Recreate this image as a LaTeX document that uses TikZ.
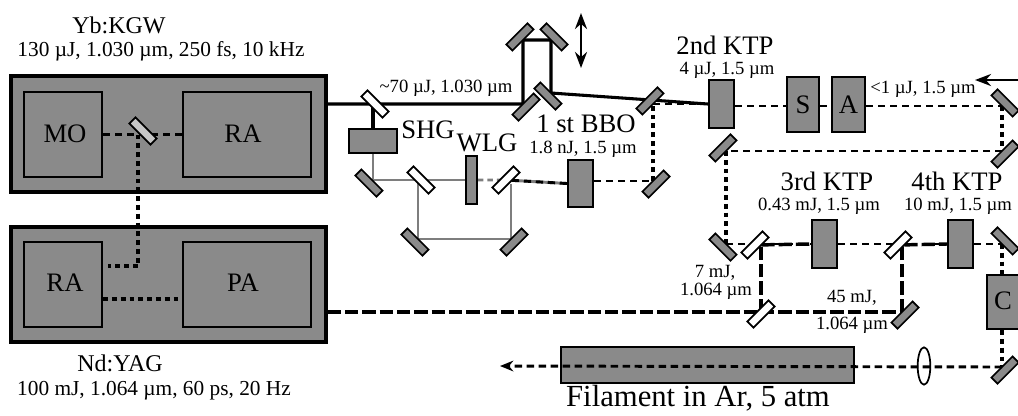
\documentclass[tikz,border=0pt]{standalone}
\usepackage{fontspec}
\setmainfont{Liberation Serif}
\usetikzlibrary{fit,backgrounds,arrows.meta,shapes.geometric}
\definecolor{fillg}{HTML}{8A8A8A}
\definecolor{beamg}{HTML}{7E7E7E}
\tikzset{
  outerbox/.style={draw=black,fill=fillg,line width=2.6pt,inner sep=0pt},
  gbox/.style={draw=black,fill=fillg,line width=1.7pt,inner sep=0pt},
  mirror/.style={draw=black,fill=fillg,line width=1.3pt,minimum width=22.5pt,minimum height=6.5pt,inner sep=0pt,outer sep=0pt},
  splitter/.style={mirror,fill=white},
  boxlabel/.style={inner sep=0pt,font=\fontsize{20}{20}\selectfont},
  big/.style={inner sep=0pt,font=\fontsize{20}{20}\selectfont},
  title/.style={inner sep=0pt,font=\fontsize{18}{18}\selectfont},
  mainline/.style={inner sep=0pt,font=\fontsize{16}{16}\selectfont},
  filtext/.style={inner sep=0pt,font=\fontsize{23}{23}\selectfont},
  small/.style={inner sep=0pt,font=\fontsize{14}{14}\selectfont},
  solidbeam/.style={draw=black,line width=2.3pt},
  dashbeam/.style={draw=black,line width=2.2pt,dash pattern=on 5.5pt off 3.5pt},
  dotbeam/.style={draw=black,line width=2.8pt,dash pattern=on 3.6pt off 3pt},
  longbeam/.style={draw=black,line width=2.6pt,dash pattern=on 10pt off 3pt},
  graybeam/.style={draw=beamg,line width=2.2pt},
  graydash/.style={draw=beamg,line width=2.2pt,dash pattern=on 4pt off 3pt},
  motion/.style={draw=black,line width=2pt,{Stealth[length=12pt,width=9pt]}-{Stealth[length=12pt,width=9pt]}},
}
\begin{document}
\begin{tikzpicture}[x=0.75pt,y=-0.75pt]
\useasboundingbox (0,0) rectangle (1018,415);
% lasers
\begin{scope}[on background layer]
\node[outerbox,fit={(11,76)(326,192)}] (yb) {};
\node[outerbox,fit={(11,227)(326,342)}] (nd) {};
\end{scope}
\node[gbox,fit={(24,92)(102,177)}] (mo) {};
\node[gbox,fit={(183,92)(311,177)}] (ra1) {};
\node[gbox,fit={(24,242)(102,327)}] (ra2) {};
\node[gbox,fit={(183,242)(311,327)}] (pa) {};
\node[boxlabel] (mol) at (65,134) {MO};
\node[boxlabel] (ra1l) at (243,134) {RA};
\node[boxlabel] (ra2l) at (65,283) {RA};
\node[boxlabel] (pal) at (243,283) {PA};
\node[splitter,fill=black!22,rotate=-45] (bs0) at (143,131) {};
\coordinate (dc) at (138,266);
\coordinate (rt) at (108,266);
\coordinate (cpa) at (150,299);
% crystals and boxes
\node[gbox,fit={(349,129)(397,153)}] (shg) {};
\node[gbox,fit={(466,156)(477,204)}] (plate) {};
\node[gbox,fit={(568,160)(593,207)}] (bbo) {};
\node[gbox,fit={(709,80)(734,128)}] (ktp2) {};
\node[gbox,fit={(787,77)(819,132)}] (sb) {};
\node[gbox,fit={(832,77)(865,132)}] (ab) {};
\node[boxlabel] (sl) at (sb) {S};
\node[boxlabel] (al) at (ab) {A};
\node[gbox,fit={(812,220)(837,268)}] (ktp3) {};
\node[gbox,fit={(948,220)(973,268)}] (ktp4) {};
\node[gbox,fit={(987,275)(1024,329)}] (cb) {};
\node[boxlabel] (cl) at (1003,301) {C};
\node[gbox,fit={(561,347)(854,383)}] (fil) {};
\node[draw=black,line width=1.3pt,ellipse,minimum width=9.5pt,minimum height=28pt,inner sep=0pt] (lens) at (924,366) {};
% mirrors
\node[splitter,rotate=-45] (bs1) at (375,104) {};
\node[mirror,rotate=45,anchor=north] (ma) at (523,104) {};
\node[mirror,rotate=45,anchor=south] (mb) at (523,40) {};
\node[mirror,rotate=-45,anchor=south] (mc) at (551,40) {};
\node[mirror,rotate=-45,anchor=north] (md) at (551,93) {};
\node[mirror,rotate=45,anchor=south] (me) at (653,104) {};
\node[mirror,rotate=45,anchor=north] (mf) at (653,181) {};
\node[mirror,rotate=-45,anchor=north] (g1) at (372,180) {};
\node[splitter,rotate=-45] (bg1) at (421,180) {};
\node[splitter,rotate=45] (bg2) at (506,180) {};
\node[mirror,rotate=-45,anchor=north] (g2) at (418,239) {};
\node[mirror,rotate=45,anchor=north] (g3) at (511,239) {};
\node[mirror,rotate=-45,anchor=south] (mg) at (1002,106) {};
\node[mirror,rotate=45,anchor=north] (mh) at (1002,151) {};
\node[mirror,rotate=45,anchor=south] (mi) at (726,151) {};
\node[mirror,rotate=-45,anchor=north] (mj) at (726,244) {};
\node[splitter,rotate=45] (bs3) at (755,245) {};
\node[splitter,rotate=45] (bs4) at (898,245) {};
\node[splitter,rotate=45] (bs5) at (761,314) {};
\node[mirror,rotate=45,anchor=north] (ml) at (902,312) {};
\node[mirror,rotate=-45,anchor=south] (mk) at (1002,244) {};
\node[mirror,rotate=45,anchor=north] (mm) at (1002,367) {};
\coordinate (out) at (500,366);
\coordinate (vt) at (581,13);
\coordinate (vb) at (581,68);
\coordinate (hl) at (975,80);
\coordinate (hr) at (1040,80);
% beams under the optics
\begin{scope}[on background layer]
\draw[solidbeam] (yb.east |- ma.north) -- (ma.north) -- (mb.south) -- (mc.south) -- (md.north) -- (ktp2.west |- me.south);
\draw[solidbeam] (shg.north |- bs1) -- (shg.north);
\draw[graybeam] (shg.south) -- (shg.south |- g1.north) -- (g1.north) -- (plate.west |- g1.north);
\draw[graybeam] (g2.north |- g1.north) -- (g2.north) -- (g3.north) -- (g3.north |- bbo.west);
\draw[graybeam] (bg2) -- (bbo.west);
\draw[graydash] (plate.east |- bg2) -- (bg2);
\draw[dashbeam] (bg2) -- (bbo.west);
\draw[dashbeam] (bbo.east |- mf.north) -- (mf.north);
\draw[dotbeam] (mf.north) -- (me.south);
\draw[dashbeam] (me.south) -- (ktp2.west |- me.south);
\draw[dashbeam] (ktp2.east |- mg.south) -- (sb.west |- mg.south);
\draw[dashbeam] (sb.east |- mg.south) -- (ab.west |- mg.south);
\draw[dashbeam] (ab.east |- mg.south) -- (mg.south);
\draw[dotbeam] (mg.south) -- (mh.north);
\draw[dashbeam] (mh.north) -- (mi.south);
\draw[dotbeam] (mi.south) -- (mj.north);
\draw[dashbeam] (mj.north) -- (ktp3.west |- mj.north);
\draw[dashbeam] (ktp3.east |- mj.north) -- (ktp4.west |- mj.north);
\draw[dashbeam] (ktp4.east |- mj.north) -- (mk.south);
\draw[dotbeam] (mk.south) -- (cb.north -| mk.south);
\draw[dotbeam] (cb.south -| mm.north) -- (mm.north);
\draw[longbeam] (bs3) -- (ktp3.west |- mj.north);
\draw[longbeam] (bs4) -- (ktp4.west |- mj.north);
\draw[longbeam] (bs5 |- ml.north) -- (bs5 |- bs3);
\draw[longbeam] (ml.north) -- (ml.north |- bs4);
\draw[longbeam] (nd.east |- ml.north) -- (ml.north);
\draw[dashbeam] (mo.east) -- (ra1.west);
\draw[dotbeam] (dc |- mo.east) -- (dc) -- (rt);
\draw[dotbeam] (ra2.east |- cpa) -- (pa.west |- cpa);
\end{scope}
% final beam, over filament and lens
\draw[dashbeam,-{Stealth[length=10pt,width=8pt]}] (mm.north) -- (out);
\draw[motion] (vt) -- (vb);
\draw[motion] (hl) -- (hr);
% labels
\node[title] (t1) at (119,25) {Yb:KGW};
\node[mainline] (t2) at (161,51) {130 µJ, 1.030 µm, 250 fs, 10 kHz};
\node[title] (t3) at (120,363) {Nd:YAG};
\node[mainline] (t4) at (154,391) {100 mJ, 1.064 µm, 60 ps, 20 Hz};
\node[filtext] (t5) at (698,398) {Filament in Ar, 5 atm};
\node[big] (t6) at (725,45) {2nd KTP};
\node[small] (t7) at (727,70) {4 µJ, 1.5 µm};
\node[small] (t8) at (923,89) {<1 µJ, 1.5 µm};
\node[small] (t9) at (446,88) {\textasciitilde70 µJ, 1.030 µm};
\node[big] (t10) at (428,130) {SHG};
\node[big] (t11) at (487,143) {WLG};
\node[big] (t12) at (586,124) {1 st BBO};
\node[small] (t13) at (583,149) {1.8 nJ, 1.5 µm};
\node[big] (t14) at (827,181) {3rd KTP};
\node[small] (t15) at (819,206) {0.43 mJ, 1.5 µm};
\node[big] (t16) at (957,181) {4th KTP};
\node[small] (t17) at (958,206) {10 mJ, 1.5 µm};
\node[small] (t18) at (715,273) {7 mJ,};
\node[small] (t19) at (716,291) {1.064 µm};
\node[small] (t20) at (852,298) {45 mJ,};
\node[small] (t21) at (852,325) {1.064 µm};
\end{tikzpicture}
\end{document}
